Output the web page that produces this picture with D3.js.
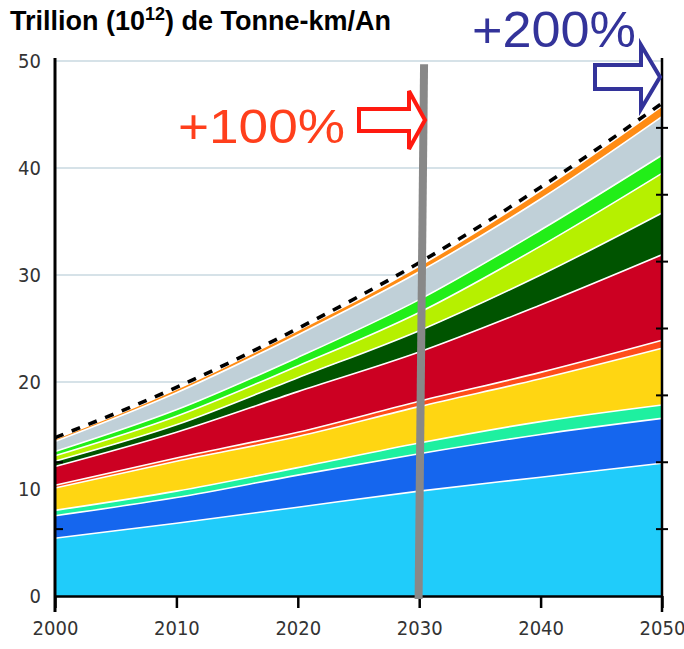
<!DOCTYPE html>
<html><head><meta charset="utf-8">
<script src="https://cdn.jsdelivr.net/npm/d3@7/dist/d3.min.js"></script>
<style>
html,body{margin:0;padding:0;background:#fff;}
svg{display:block;}
</style></head>
<body>
<svg id="chart" width="684" height="649"></svg>
<script>
// ---- DATA (trillion tonne-km / year) ----
const years = [2000, 2010, 2020, 2030, 2040, 2050];
const seriesKeys = ["s1","s2","s3","s4","s5","s6","s7","s8","s9","s10","s11"];
const s1  = [5.4, 6.8, 8.3, 9.8, 11.1, 12.4];    // light cyan
const s2  = [2.1, 2.4, 3.0, 3.5, 4.0, 4.2];      // blue
const s3  = [0.5, 0.6, 0.7, 1.0, 1.2, 1.25];     // mint
const s4  = [2.1, 2.8, 2.9, 3.4, 4.0, 5.3];      // yellow
const s5  = [0.25, 0.3, 0.4, 0.5, 0.6, 0.75];    // orange-red
const s6  = [1.75, 2.4, 3.8, 4.6, 6.3, 8.0];     // red
const s7  = [0.5, 0.7, 1.3, 2.0, 2.8, 3.9];      // dark green
const s8  = [0.5, 0.8, 1.1, 1.7, 2.7, 3.7];      // yellow-green
const s9  = [0.4, 0.6, 0.8, 1.2, 1.5, 1.7];      // green
const s10 = [0.95, 1.6, 2.1, 2.6, 2.9, 3.6];     // grey-blue
const s11 = [0.15, 0.25, 0.35, 0.45, 0.7, 0.9];  // orange
const totalLine = [14.8, 19.5, 25.0, 31.15, 38.2, 46.05]; // dashed total
const yTicks = [0, 10, 20, 30, 40, 50];
const xTicks = [2000, 2010, 2020, 2030, 2040, 2050];
const minorTicks = [6.25, 12.5, 18.75, 25, 31.25, 37.5, 43.75];
const colors = ["#20ccfa","#1566ee","#1ef0a0","#ffd612","#ff4d1a","#cc0022","#005400","#b6f000","#22ee18","#c0d0d8","#ff8c14"];

const seriesData = [s1,s2,s3,s4,s5,s6,s7,s8,s9,s10,s11];
const table = years.map((yr,i)=>{
  const row = {year: yr};
  seriesKeys.forEach((k,j)=> row[k] = seriesData[j][i]);
  return row;
});

const svg = d3.select("#chart");
const x = d3.scaleLinear().domain([2000,2050]).range([55,662]);
const y = d3.scaleLinear().domain([0,50]).range([596,61]);

// gridlines
svg.append("g").selectAll("line").data(yTicks.filter(d=>d>0)).join("line")
  .attr("x1", x(2000)).attr("x2", x(2050))
  .attr("y1", d=>y(d)).attr("y2", d=>y(d))
  .attr("stroke", "#c9d9e1").attr("stroke-width", 1.5);

// stacked areas
const stack = d3.stack().keys(seriesKeys);
const layers = stack(table);
const area = d3.area()
  .x(d=>x(d.data.year)).y0(d=>y(d[0])).y1(d=>y(d[1]))
  .curve(d3.curveMonotoneX);
const topLine = d3.line().x(d=>x(d.data.year)).y(d=>y(d[1])).curve(d3.curveMonotoneX);

svg.append("g").selectAll("path").data(layers).join("path")
  .attr("d", area).attr("fill", (d,i)=>colors[i]);
svg.append("g").selectAll("path").data(layers.slice(0,10)).join("path")
  .attr("d", topLine).attr("fill","none").attr("stroke","#fff").attr("stroke-width",1.6);

// dashed total line
const tl = d3.line().x((d,i)=>x(years[i])).y(d=>y(d)).curve(d3.curveMonotoneX);
svg.append("path").datum(totalLine).attr("d", tl)
  .attr("fill","none").attr("stroke","#000").attr("stroke-width",3.6)
  .attr("stroke-dasharray","9,9");

// axes
const axisFont = "'DejaVu Sans Condensed', 'Liberation Sans Narrow', sans-serif";
svg.append("line").attr("x1",x(2000)).attr("x2",x(2000)).attr("y1",y(50)-3).attr("y2",612)
  .attr("stroke","#000").attr("stroke-width",3);
svg.append("line").attr("x1",x(2050)).attr("x2",x(2050)).attr("y1",y(50)-3).attr("y2",612)
  .attr("stroke","#000").attr("stroke-width",2.5);
const xAxis = d3.axisBottom(x).tickValues(xTicks).tickFormat(d3.format("d")).tickSize(12).tickSizeOuter(0);
const gx = svg.append("g").attr("transform",`translate(0,${y(0)})`).call(xAxis);
gx.select(".domain").attr("stroke","#000").attr("stroke-width",2.5);
gx.selectAll(".tick line").attr("stroke","#000").attr("stroke-width",2.5);
gx.selectAll(".tick text").attr("font-family",axisFont).attr("font-size",20)
  .attr("fill","#333").attr("dy","1.2em");

const yAxis = d3.axisLeft(y).tickValues(yTicks).tickSize(0).tickPadding(14);
const gy = svg.append("g").attr("transform",`translate(${x(2000)},0)`).call(yAxis);
gy.select(".domain").remove();
gy.selectAll(".tick text").attr("font-family",axisFont).attr("font-size",20).attr("fill","#333");

// minor ticks
svg.append("g").selectAll("line").data(minorTicks).join("line")
  .attr("x1", x(2050)-6).attr("x2", x(2050)+6)
  .attr("y1", d=>y(d)).attr("y2", d=>y(d)).attr("stroke","#000").attr("stroke-width",2);
svg.append("g").selectAll("line").data(minorTicks.slice(0,2)).join("line")
  .attr("x1", x(2000)).attr("x2", x(2000)+8)
  .attr("y1", d=>y(d)).attr("y2", d=>y(d)).attr("stroke","#000").attr("stroke-width",2);

// gray 2030 bar
svg.append("line")
  .attr("x1", x(2030.4)).attr("y1", y(49.7))
  .attr("x2", x(2029.95)).attr("y2", y(0)+3)
  .attr("stroke","#888").attr("stroke-width",8);

// title
const title = svg.append("text").attr("x",10).attr("y",30)
  .attr("font-family","'Liberation Sans', Arial, sans-serif").attr("font-weight","bold")
  .attr("font-size",27).attr("fill","#000");
title.append("tspan").text("Trillion (10");
title.append("tspan").text("12").attr("font-size",18).attr("dy",-10);
title.append("tspan").text(") de Tonne-km/An").attr("dy",10);

// +100% annotation
svg.append("text").attr("x",178).attr("y",143)
  .attr("font-family","'Liberation Sans', Arial, sans-serif").attr("font-size",49)
  .attr("textLength",167).attr("lengthAdjust","spacingAndGlyphs")
  .attr("fill","#ff3f1c").text("+100%");
const arrow = (x0, xs, xt, yc, hs, hh) =>
  `M${x0},${yc-hs} L${xs},${yc-hs} L${xs},${yc-hh} L${xt},${yc} L${xs},${yc+hh} L${xs},${yc+hs} L${x0},${yc+hs} Z`;
svg.append("path").attr("d", arrow(359, 409, 425, 120, 11, 29))
  .attr("fill","#fff").attr("stroke","#ff1a10").attr("stroke-width",4).attr("stroke-linejoin","miter");

// +200% annotation
svg.append("text").attr("x",472).attr("y",47)
  .attr("font-family","'Liberation Sans', Arial, sans-serif").attr("font-size",50)
  .attr("textLength",164).attr("lengthAdjust","spacingAndGlyphs")
  .attr("fill","#33339a").text("+200%");
svg.append("path").attr("d", arrow(595, 641, 660, 77, 12, 32))
  .attr("fill","#fff").attr("stroke","#33339a").attr("stroke-width",4).attr("stroke-linejoin","miter");
</script>
</body></html>
